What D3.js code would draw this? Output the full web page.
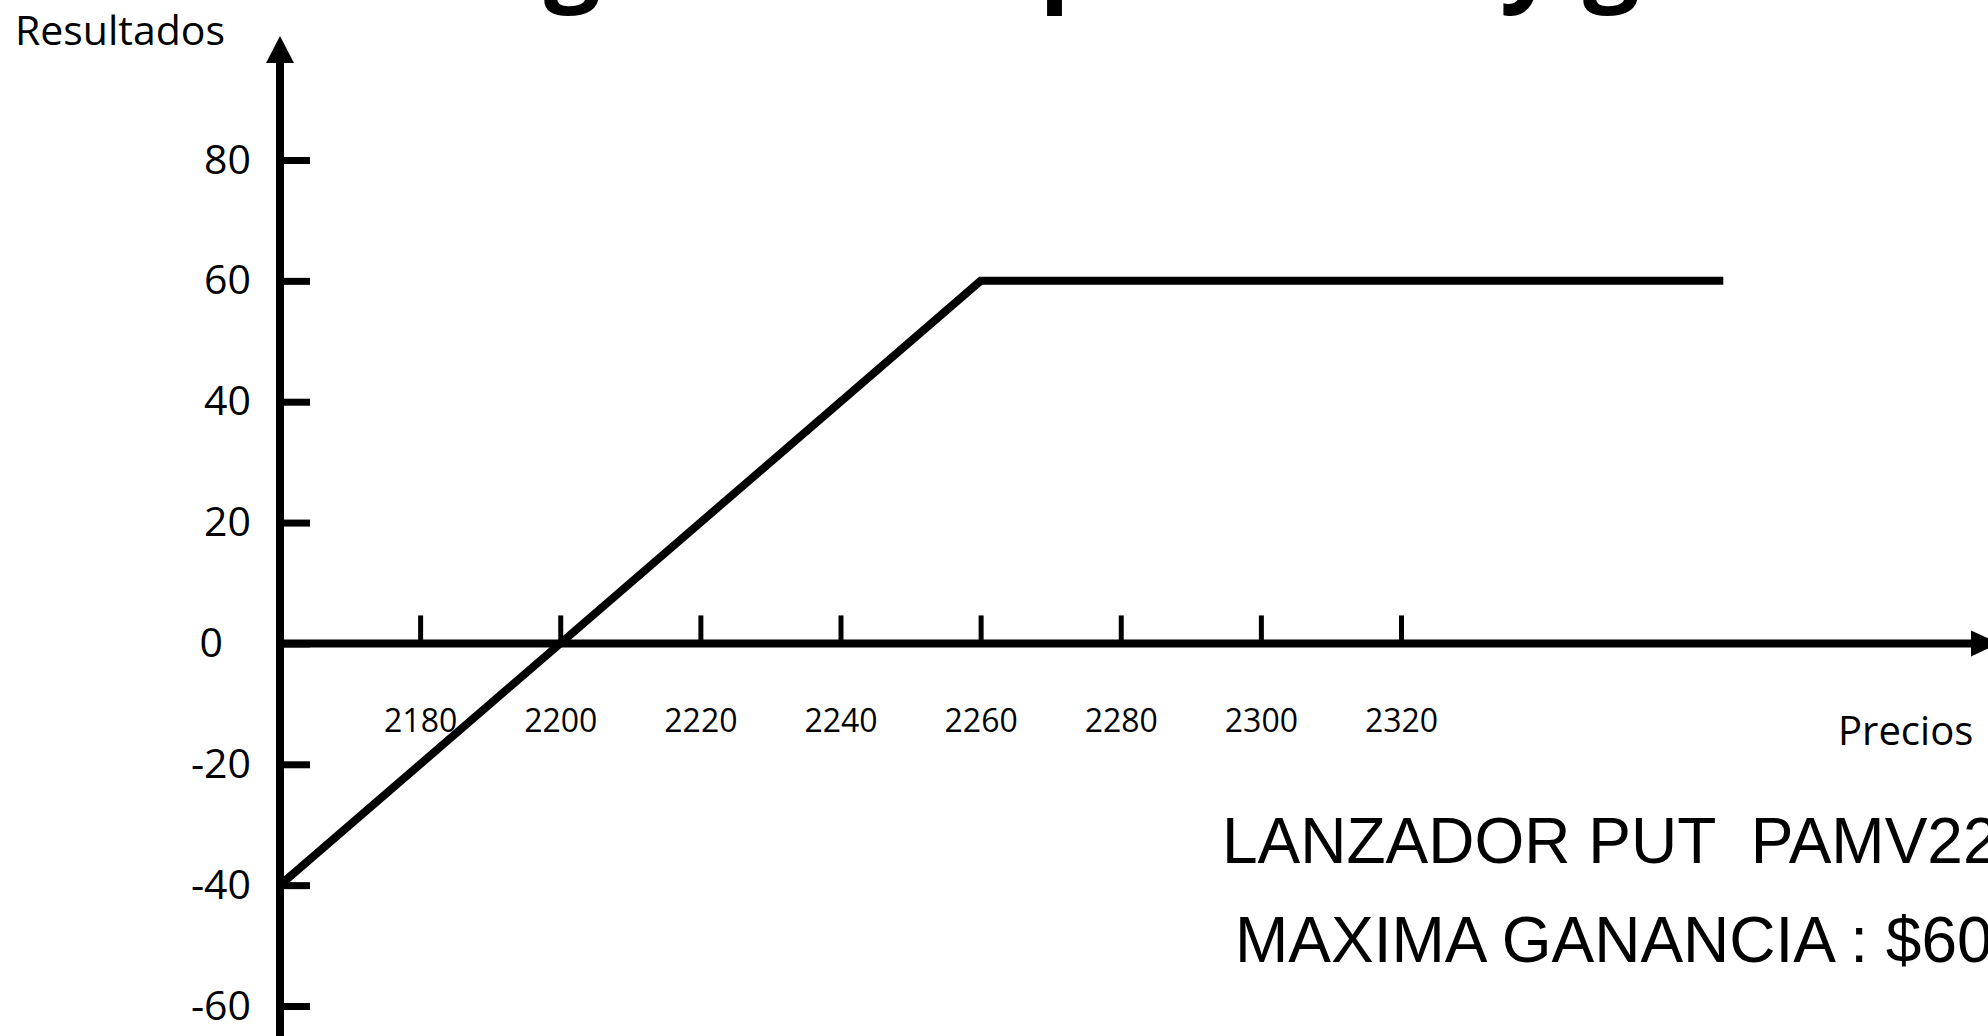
<!DOCTYPE html>
<html><head><meta charset="utf-8">
<script src="https://cdn.jsdelivr.net/npm/d3@7"></script>
<style>
html,body{margin:0;padding:0;background:#fff;overflow:hidden}
svg{display:block}
text{fill:#000}
</style></head><body>
<script>
// ---- data ----
const priceTicks = [2180, 2200, 2220, 2240, 2260, 2280, 2300, 2320];
const resultTicks = [80, 60, 40, 20, 0, -20, -40, -60];
const payoffPrices = [2160, 2200, 2260, 2366];
const payoffResults = [-40, 0, 60, 60];
const titleText = "Diagrama de pérdidas y ganancias";
const xAxisTitle = "Precios";
const yAxisTitle = "Resultados";
const noteLines = ["LANZADOR PUT  PAMV2260", "MAXIMA GANANCIA : $60"];

// ---- layout ----
const W = 1988, H = 1036;
const svg = d3.select("body").append("svg").attr("width", W).attr("height", H);

const x = d3.scaleLinear().domain([2160, 2320]).range([280, 1401]);
const y = d3.scaleLinear().domain([-60, 80]).range([640 + 60 * 6.1, 640 - 80 * 6.0]);

const x0 = x(2160), y0 = y(0);
const sans = "'Open Sans', sans-serif";

// title (mostly above the visible area, as in the reference)
svg.append("text").attr("x", 379).attr("y", -8)
  .style("font-family", sans).style("font-weight", 700).style("font-size", "100px")
  .text(titleText);

// x axis ticks and labels
const gx = svg.append("g").attr("transform", `translate(0,${y0})`)
  .call(d3.axisBottom(x).tickValues(priceTicks).tickSizeInner(-28).tickSizeOuter(0).tickPadding(66).tickFormat(d => String(d)));
gx.select(".domain").remove();
gx.selectAll(".tick line").attr("stroke", "#000").attr("stroke-width", 5);
gx.selectAll(".tick text").style("font-family", sans).style("font-size", "32px").attr("fill", "#000");

// y axis ticks and labels
const gy = svg.append("g").attr("transform", `translate(${x0},0)`)
  .call(d3.axisRight(y).tickValues(resultTicks).tickSize(30).tickFormat(d => String(d)));
gy.select(".domain").remove();
gy.selectAll(".tick line").attr("stroke", "#000").attr("stroke-width", 7);
gy.selectAll(".tick text")
  .attr("x", d => d === 0 ? -57 : -29).attr("text-anchor", "end")
  .style("font-family", sans).style("font-size", "41px").attr("fill", "#000");

// axis lines with arrows
svg.append("line").attr("x1", x0).attr("y1", H + 10).attr("x2", x0).attr("y2", 60)
  .attr("stroke", "#000").attr("stroke-width", 8);
svg.append("path").attr("d", `M${x0},36 L${x0 - 14},63 L${x0 + 14},63 Z`).attr("fill", "#000");

svg.append("line").attr("x1", x0).attr("y1", y0).attr("x2", 1975).attr("y2", y0)
  .attr("stroke", "#000").attr("stroke-width", 8);
svg.append("path").attr("d", `M1999,${y0} L1971,${y0 - 13} L1971,${y0 + 13} Z`).attr("fill", "#000");

// payoff line
const pts = payoffPrices.map((p, i) => [p, payoffResults[i]]);
svg.append("path").datum(pts)
  .attr("d", d3.line().x(d => x(d[0])).y(d => y(d[1])))
  .attr("fill", "none").attr("stroke", "#000").attr("stroke-width", 8)
  .attr("stroke-linejoin", "miter").attr("stroke-linecap", "butt");

// axis titles
svg.append("text").attr("x", 15).attr("y", 45)
  .style("font-family", sans).style("font-size", "41px").text(yAxisTitle);
svg.append("text").attr("x", 1838).attr("y", 745)
  .style("font-family", sans).style("font-size", "40px").text(xAxisTitle);

// notes
const noteX = [1222, 1235], noteY = [863, 962];
noteLines.forEach((t, i) => {
  svg.append("text").attr("x", noteX[i]).attr("y", noteY[i])
    .style("font-family", "'Liberation Sans', Arial, sans-serif").style("font-size", "64px")
    .style("white-space", "pre").attr("xml:space", "preserve").text(t);
});
</script>
</body></html>
